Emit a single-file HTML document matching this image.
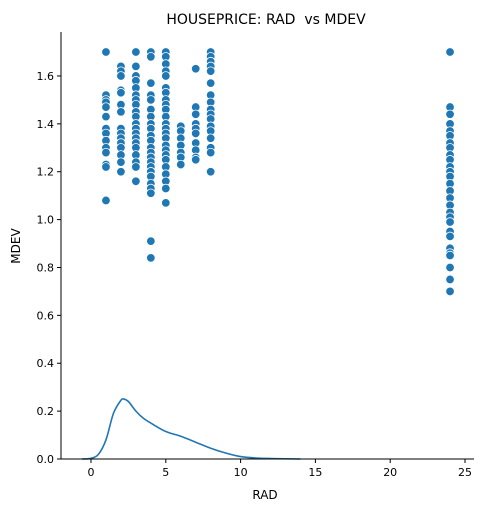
<!DOCTYPE html>
<html><head><meta charset="utf-8"><style>
body{margin:0;background:#fff}
text{font-family:"DejaVu Sans","Liberation Sans",sans-serif;fill:#000}
</style></head><body>
<svg id="chart" width="486" height="512">
<text x="266" y="24" font-size="14" text-anchor="middle" style="white-space:pre">HOUSEPRICE: RAD  vs MDEV</text>
<g id="marks"></g>
<g id="axes"></g>
<text x="265" y="499" font-size="12" text-anchor="middle">RAD</text>
<text x="20" y="246" font-size="12" text-anchor="middle" transform="rotate(-90 20 246)">MDEV</text>
</svg>
<script>
const radValues=[1,2,3,4,5,6,7,8,24];
const mdev1=[1.70,1.52,1.50,1.49,1.47,1.43,1.38,1.36,1.33,1.30,1.28,1.23,1.22,1.08];
const mdev2=[1.64,1.62,1.60,1.54,1.53,1.48,1.45,1.38,1.36,1.34,1.32,1.30,1.27,1.24,1.20];
const mdev3=[1.70,1.64,1.60,1.58,1.55,1.52,1.50,1.48,1.45,1.43,1.40,1.38,1.36,1.34,1.32,1.30,1.27,1.24,1.22,1.16];
const mdev4=[1.70,1.68,1.57,1.52,1.50,1.46,1.43,1.40,1.38,1.35,1.33,1.30,1.28,1.26,1.24,1.22,1.20,1.18,1.15,1.13,1.11,0.91,0.84];
const mdev5=[1.70,1.68,1.65,1.62,1.60,1.55,1.53,1.50,1.48,1.46,1.43,1.40,1.38,1.36,1.34,1.31,1.29,1.27,1.25,1.22,1.19,1.16,1.13,1.07];
const mdev6=[1.39,1.37,1.34,1.31,1.28,1.26,1.23];
const mdev7=[1.63,1.47,1.44,1.40,1.38,1.36,1.32,1.29,1.26,1.25];
const mdev8=[1.70,1.68,1.66,1.64,1.62,1.57,1.52,1.49,1.46,1.44,1.42,1.39,1.37,1.34,1.30,1.28,1.20];
const mdev24=[1.70,1.47,1.44,1.40,1.37,1.35,1.32,1.30,1.27,1.25,1.22,1.20,1.18,1.15,1.12,1.09,1.06,1.03,1.01,0.99,0.95,0.93,0.88,0.86,0.85,0.80,0.75,0.70];
const kdeX=[-0.6,0,0.5,1,1.5,2,2.2,2.5,3,3.5,4,5,6,7,8,9,10,11,12,14];
const kdeY=[0,0.003,0.02,0.08,0.19,0.245,0.25,0.24,0.2,0.17,0.15,0.115,0.095,0.07,0.045,0.025,0.01,0.004,0.002,0];
const xTicks=[0,5,10,15,20,25];
const yTicks=[0,0.2,0.4,0.6,0.8,1.0,1.2,1.4,1.6];
const yTickLabels=["0.0","0.2","0.4","0.6","0.8","1.0","1.2","1.4","1.6"];

const L=61,R=474,T=32,B=459;
const sx=v=>91+v*14.96;
const sy=v=>B-v*239.4;
const NS="http://www.w3.org/2000/svg";
const mk=(t,a)=>{const e=document.createElementNS(NS,t);for(const k in a)e.setAttribute(k,a[k]);return e;};
const marks=document.getElementById('marks'),axes=document.getElementById('axes');
const groups=[mdev1,mdev2,mdev3,mdev4,mdev5,mdev6,mdev7,mdev8,mdev24];
groups.forEach((g,i)=>g.forEach(v=>{
 const c=mk('circle',{cx:sx(radValues[i]),cy:sy(v),r:4.3,fill:'#1f77b4',stroke:'#fff','stroke-width':0.8});
 
 
 marks.appendChild(c);
}));
// Catmull-Rom smoothing
const P=kdeX.map((x,i)=>[sx(x),sy(kdeY[i])]);
let d='M'+P[0][0].toFixed(1)+','+P[0][1].toFixed(1);
for(let i=0;i<P.length-1;i++){
 const p0=P[Math.max(0,i-1)],p1=P[i],p2=P[i+1],p3=P[Math.min(P.length-1,i+2)];
 const c1=[p1[0]+(p2[0]-p0[0])/6,p1[1]+(p2[1]-p0[1])/6];
 const c2=[p2[0]-(p3[0]-p1[0])/6,p2[1]-(p3[1]-p1[1])/6];
 d+='C'+c1.map(n=>n.toFixed(1)).join(',')+' '+c2.map(n=>n.toFixed(1)).join(',')+' '+p2.map(n=>n.toFixed(1)).join(',');
}
const kde=mk('path',{d:d,fill:'none',stroke:'#1f77b4','stroke-width':1.6,'stroke-linejoin':'round'});


marks.appendChild(kde);
const xa=mk('line',{x1:L,y1:B,x2:R,y2:B,stroke:'#000','stroke-width':1});


axes.appendChild(xa);
const ya=mk('line',{x1:L,y1:T,x2:L,y2:B,stroke:'#000','stroke-width':1});


axes.appendChild(ya);
xTicks.forEach(v=>{
 axes.appendChild(mk('line',{x1:sx(v),y1:B,x2:sx(v),y2:B+4,stroke:'#000'}));
 const t=mk('text',{x:sx(v),y:B+17,'font-size':11,'text-anchor':'middle'});
 t.textContent=v;
 
 
 axes.appendChild(t);
});
yTicks.forEach((v,i)=>{
 axes.appendChild(mk('line',{x1:L-4,y1:sy(v),x2:L,y2:sy(v),stroke:'#000'}));
 const t=mk('text',{x:L-7,y:sy(v)+4,'font-size':11,'text-anchor':'end'});
 t.textContent=yTickLabels[i];
 
 
 axes.appendChild(t);
});
</script>
</body></html>
